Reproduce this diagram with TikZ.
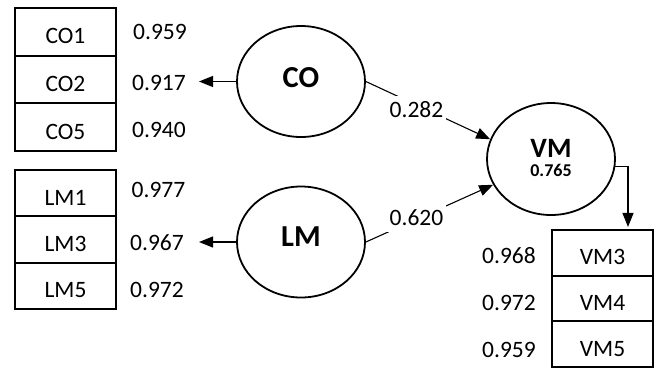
\documentclass[tikz,border=0pt]{standalone}
\usepackage{fontspec}
\setmainfont{Carlito}
\usetikzlibrary{arrows.meta,shapes.geometric}
\begin{document}
\begin{tikzpicture}[x=1bp,y=-1bp,
  every node/.style={font=\fontsize{23.5bp}{28bp}\selectfont, inner sep=0pt},
  ind/.style={draw, line width=2bp, minimum width=101bp, text height=24bp, text depth=0pt},
  ca/.style={ind, minimum height=47.7bp},
  cb/.style={ind, minimum height=46.3bp},
  cc/.style={ind, minimum height=45.7bp},
  val/.style={},
  lat/.style={draw, ellipse, line width=1.8bp, minimum width=128bp, minimum height=111bp},
  conn/.style={line width=1.1bp, -{Triangle[length=14bp,width=11bp]}},
  lab/.style={fill=white, inner xsep=3bp, inner ysep=6bp}
]
\useasboundingbox (0,0) rectangle (658,369);
% indicator boxes
\node[ca] (CO1) at (65.5,31.8) {CO1};
\node[ca] (CO2) at (65.5,79.5) {CO2};
\node[ca] (CO5) at (65.5,127.2) {CO5};
\node[cb] (LM1) at (65.5,193.2) {LM1};
\node[cb] (LM3) at (65.5,239.5) {LM3};
\node[cb] (LM5) at (65.5,285.8) {LM5};
\node[cc] (VM3) at (602.5,252.8) {VM3};
\node[cc] (VM4) at (602.5,298.5) {VM4};
\node[cc] (VM5) at (602.5,344.2) {VM5};
% loadings
\node[val] (vCO1) at (160,31.7) {0.959};
\node[val] (vCO2) at (159,82.5) {0.917};
\node[val] (vCO5) at (159,130) {0.940};
\node[val] (vLM1) at (158.5,190) {0.977};
\node[val] (vLM3) at (157,242.5) {0.967};
\node[val] (vLM5) at (157,290) {0.972};
\node[val] (vVM3) at (509,256) {0.968};
\node[val] (vVM4) at (509,302.5) {0.972};
\node[val] (vVM5) at (509,349.5) {0.959};
% latent variables
\node[lat, font=\fontsize{30.5bp}{34bp}\selectfont\bfseries, text height=12.6bp, text depth=0pt] (CO) at (301,81.5) {CO};
\node[lat, font=\fontsize{30.5bp}{34bp}\selectfont\bfseries, text height=9.2bp, text depth=0pt] (LM) at (301,242) {LM};
\node[lat, minimum height=112bp, font=\fontsize{28bp}{32bp}\selectfont\bfseries, text height=0pt, text depth=3.3bp] (VM) at (551,159) {VM};
\node[font=\fontsize{18bp}{21bp}\selectfont\bfseries] (R2) at (551,170) {0.765};
% connectors
\draw[conn, shorten >=82bp] (CO.west) -- (CO2.east |- CO.west);
\draw[conn, shorten >=82bp] (LM.west) -- (LM3.east |- LM.west);
\draw[conn] (CO.east) -- (VM.162);
\node[lab] (p1) at (416.5,110) {0.282};
\draw[conn] (LM.east) -- (VM.204);
\node[lab] (p2) at (416.5,217.5) {0.620};
\draw[conn, shorten >=2bp] (VM.-7) -| ([xshift=25.5bp]VM3.north);
\end{tikzpicture}
\end{document}
